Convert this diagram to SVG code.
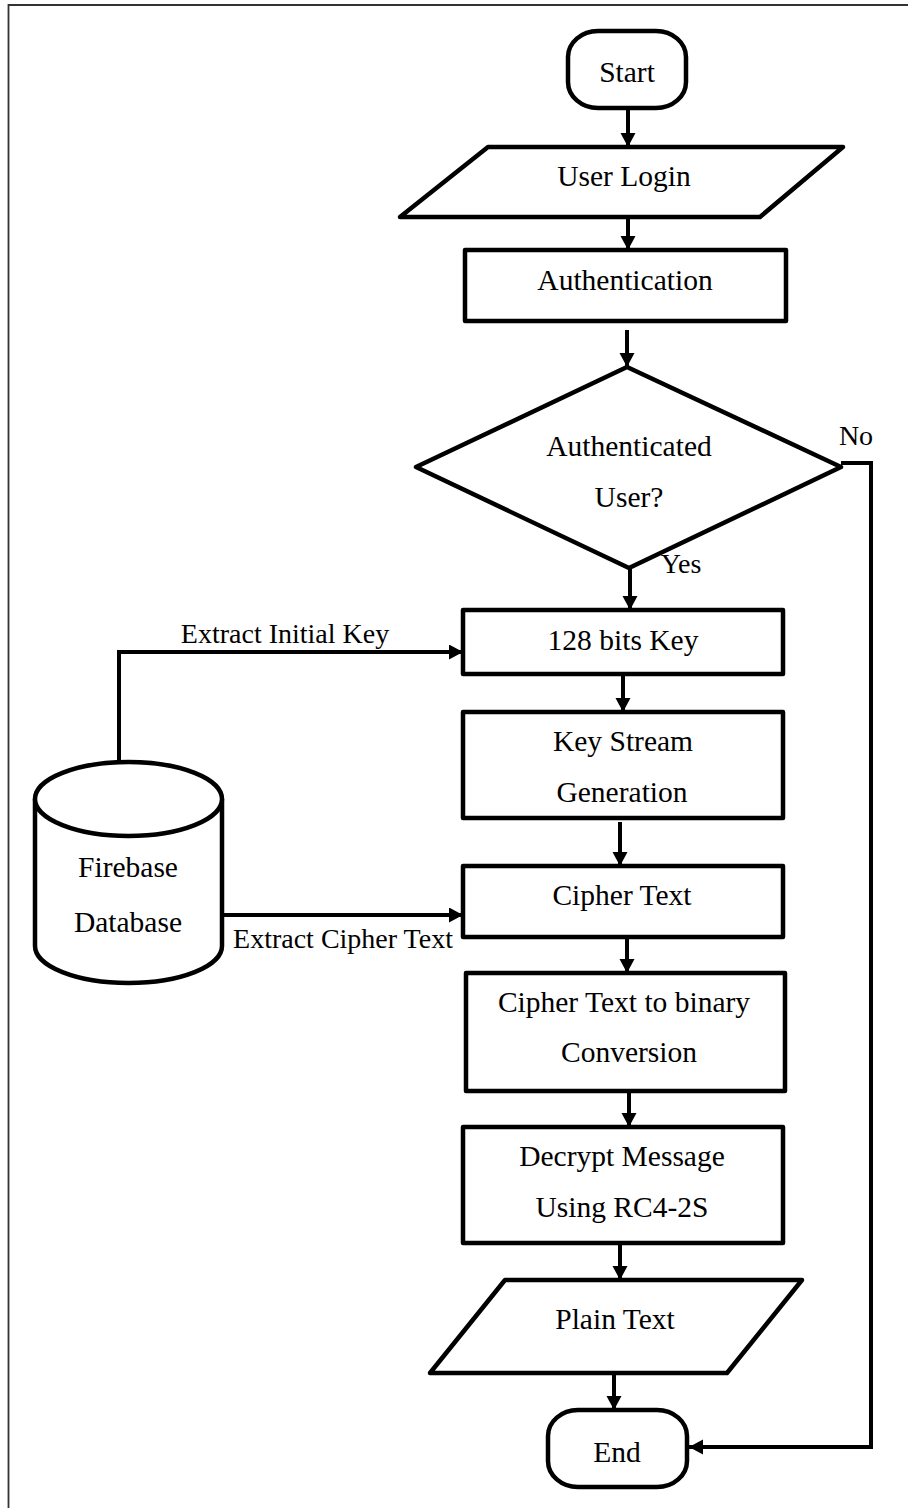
<svg xmlns="http://www.w3.org/2000/svg" width="908" height="1508" viewBox="0 0 908 1508">
  <defs>
    <marker id="arrow" markerUnits="userSpaceOnUse" markerWidth="16" markerHeight="16" refX="14" refY="7.5" orient="auto">
      <path d="M0,0 L14,7.5 L0,15 z" fill="#000"/>
    </marker>
  </defs>
  <style>
    .shape { fill: #fff; stroke: #000; stroke-width: 4.5; stroke-linejoin: round; }
    .link { fill: none; stroke: #000; stroke-width: 4; marker-end: url(#arrow); }
    .label { font-family: "Liberation Serif", "Times New Roman", Tinos, "DejaVu Serif", serif; font-size: 29.5px; fill: #000; text-anchor: middle; }
    .note { font-family: "Liberation Serif", "Times New Roman", Tinos, "DejaVu Serif", serif; font-size: 28px; fill: #000; text-anchor: middle; }
  </style>
  <rect width="908" height="1508" fill="#fff"/>
  <!-- page frame: top and left edges only -->
  <path d="M908,5 L8.5,5 L8.5,1508" fill="none" stroke="#333" stroke-width="1.8"/>

  <g id="connectors">
    <path class="link" d="M628,108 L628,147"/>
    <path class="link" d="M628,217 L628,250"/>
    <path class="link" d="M627,330 L627,367"/>
    <path class="link" d="M630,568 L630,610"/>
    <path class="link" d="M841,463 L871,463 L871,1447 L689,1447"/>
    <path class="link" d="M623,674 L623,712"/>
    <path class="link" d="M620,822 L620,866"/>
    <path class="link" d="M627,938 L627,973"/>
    <path class="link" d="M629,1091 L629,1127"/>
    <path class="link" d="M620,1243 L620,1280"/>
    <path class="link" d="M614,1373 L614,1410"/>
    <path class="link" d="M119,760 L119,652 L463,652"/>
    <path class="link" d="M223,915 L463,915"/>
    <text class="note" x="856" y="445">No</text>
    <text class="note" x="681" y="573">Yes</text>
    <text class="note" x="285" y="643">Extract Initial Key</text>
    <text class="note" x="343" y="948">Extract Cipher Text</text>
  </g>

  <g id="start">
    <rect class="shape" x="568" y="31" width="118" height="77" rx="30" ry="26"/>
    <text class="label" x="627" y="82">Start</text>
  </g>

  <g id="user-login">
    <polygon class="shape" points="488,147 843,147 760,217 400,217"/>
    <text class="label" x="624" y="186">User Login</text>
  </g>

  <g id="authentication">
    <rect class="shape" x="465" y="250" width="321" height="71"/>
    <text class="label" x="625" y="290">Authentication</text>
  </g>

  <g id="authenticated-user">
    <polygon class="shape" points="627,367 841,467 629,568 416,467"/>
    <text class="label" x="629" y="456">Authenticated</text>
    <text class="label" x="629" y="507">User?</text>
  </g>

  <g id="key-128">
    <rect class="shape" x="463" y="610" width="320" height="64"/>
    <text class="label" x="623" y="650">128 bits Key</text>
  </g>

  <g id="key-stream">
    <rect class="shape" x="463" y="712" width="320" height="106"/>
    <text class="label" x="623" y="751">Key Stream</text>
    <text class="label" x="622" y="802">Generation</text>
  </g>

  <g id="cipher-text">
    <rect class="shape" x="463" y="866" width="320" height="71"/>
    <text class="label" x="622" y="905">Cipher Text</text>
  </g>

  <g id="firebase">
    <path class="shape" d="M35,799 L35,946 A93.5,37 0 0 0 222,946 L222,799 A93.5,37 0 0 0 35,799 Z"/>
    <path class="shape" fill="none" d="M35,799 A93.5,37 0 0 0 222,799"/>
    <text class="label" x="128" y="877">Firebase</text>
    <text class="label" x="128" y="932">Database</text>
  </g>

  <g id="to-binary">
    <rect class="shape" x="466" y="973" width="319" height="118"/>
    <text class="label" x="624" y="1012">Cipher Text to binary</text>
    <text class="label" x="629" y="1062">Conversion</text>
  </g>

  <g id="decrypt">
    <rect class="shape" x="463" y="1127" width="320" height="116"/>
    <text class="label" x="622" y="1166">Decrypt Message</text>
    <text class="label" x="622" y="1217">Using RC4-2S</text>
  </g>

  <g id="plain-text">
    <polygon class="shape" points="505,1280 802,1280 727,1373 430,1373"/>
    <text class="label" x="615" y="1329">Plain Text</text>
  </g>

  <g id="end">
    <rect class="shape" x="548" y="1410" width="139" height="77" rx="30" ry="26"/>
    <text class="label" x="617" y="1462">End</text>
  </g>
</svg>
